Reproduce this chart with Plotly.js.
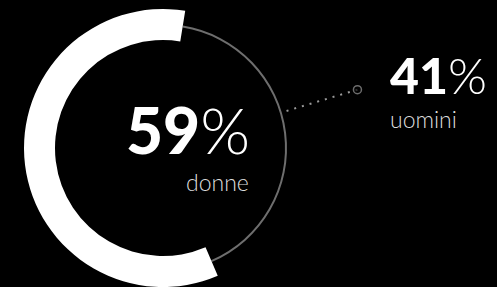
<!DOCTYPE html>
<html><head><meta charset="utf-8">
<script src="https://cdn.plot.ly/plotly-3.0.1.min.js"></script>
<style>html,body{margin:0;padding:0;background:#000}#chart{width:497px;height:287px}</style>
</head><body><div id="chart"></div>
<script>
// ---- data ----
const categories = ['donne', 'uomini'];
const shares = [59, 41];
const bandColors = ['#ffffff', 'rgba(0,0,0,0)'];
const ringColors = ['rgba(0,0,0,0)', '#6e6e6e'];

// ---- layout constants (pixels) ----
const W = 497, H = 287;
const cx = 163, cy = 148, rOut = 139, rIn = 108, rRing = 124, ringW = 2;
const startAngle = 156.8;          // clockwise from 12 o'clock
const connAngle = 73.3, connR0 = 129, connR1 = 203;

function dom(r) {
  return { x: [(cx - r) / W, (cx + r) / W], y: [1 - (cy + r) / H, 1 - (cy - r) / H] };
}
function polar(r, a) {
  const t = a * Math.PI / 180;
  return [cx + r * Math.sin(t), cy - r * Math.cos(t)];
}

const common = {
  type: 'pie', labels: categories, values: shares, sort: false,
  direction: 'clockwise', rotation: startAngle, textinfo: 'none',
  hoverinfo: 'skip', showlegend: false
};

const ring = Object.assign({}, common, {
  domain: dom(rRing), hole: (rRing - ringW) / rRing,
  marker: { colors: ringColors, line: { width: 0 } }
});
const band = Object.assign({}, common, {
  domain: dom(rOut), hole: rIn / rOut,
  marker: { colors: bandColors, line: { width: 0 } }
});

const p0 = polar(connR0, connAngle), p1 = polar(connR1, connAngle);
const connector = {
  type: 'scatter', mode: 'lines+markers', x: [p0[0], p1[0]], y: [p0[1], p1[1]],
  line: { color: '#9a9a9a', width: 2, dash: '2px,6px' },
  marker: { size: [0, 8], color: '#000', line: { color: '#9a9a9a', width: 1.5 } },
  hoverinfo: 'skip', showlegend: false, cliponaxis: false
};

const pct = shares.map(v => '<span style="font-weight:900">' + v + '</span>%');
const font = (size, color) => ({ family: 'Lato', size: size, color: color, weight: 300 });

const layout = {
  width: W, height: H, margin: { l: 0, r: 0, t: 0, b: 0 },
  paper_bgcolor: '#000', plot_bgcolor: 'rgba(0,0,0,0)',
  xaxis: { range: [0, W], visible: false, fixedrange: true },
  yaxis: { range: [H, 0], visible: false, fixedrange: true },
  annotations: [
    { text: pct[0], xref: 'paper', yref: 'paper', x: 252 / W, y: 1 - 129 / H,
      xanchor: 'right', yanchor: 'middle', showarrow: false, font: font(64, '#ffffff') },
    { text: categories[0], xref: 'paper', yref: 'paper', x: 251 / W, y: 1 - 182 / H,
      xanchor: 'right', yanchor: 'middle', showarrow: false, font: font(23, '#dddddd') },
    { text: pct[1], xref: 'paper', yref: 'paper', x: 388 / W, y: 1 - 75 / H,
      xanchor: 'left', yanchor: 'middle', showarrow: false, font: font(50, '#ffffff') },
    { text: categories[1], xref: 'paper', yref: 'paper', x: 388 / W, y: 1 - 119 / H,
      xanchor: 'left', yanchor: 'middle', showarrow: false, font: font(23, '#dddddd') }
  ]
};

Plotly.newPlot('chart', [ring, band, connector], layout, { displayModeBar: false, staticPlot: true });
</script>
</body></html>
